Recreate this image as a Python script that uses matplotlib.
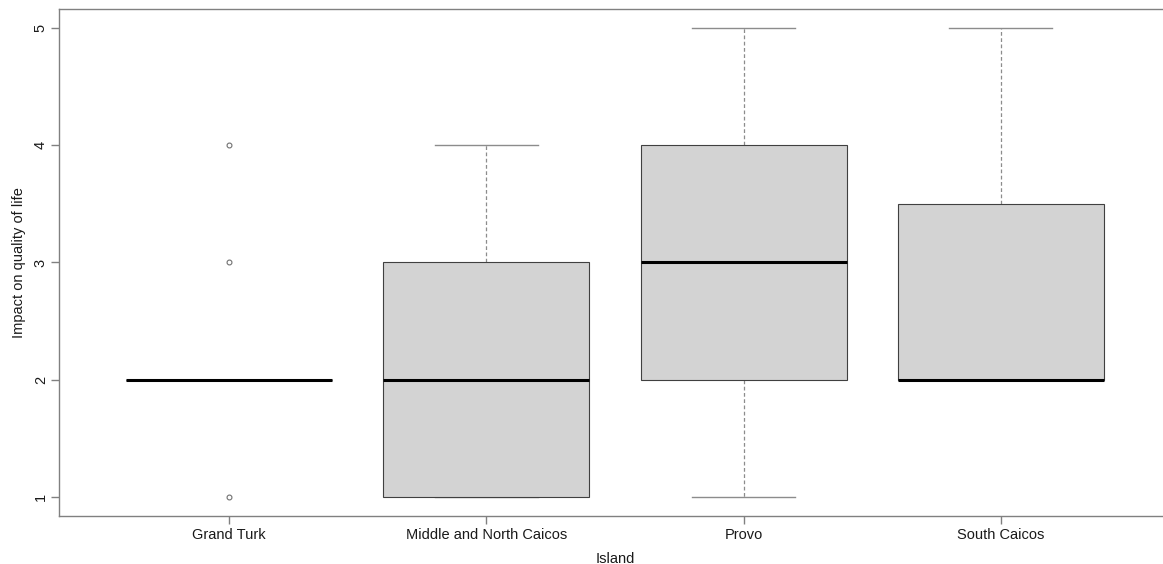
import matplotlib.pyplot as plt

plt.rcParams['font.family'] = ['Liberation Sans', 'DejaVu Sans']

# Five-number summaries per island (whisker low, Q1, median, Q3, whisker high)
islands = ['Grand Turk', 'Middle and North Caicos', 'Provo', 'South Caicos']
whisker_low = [2, 1, 1, 2]
q1 = [2, 1, 2, 2]
median = [2, 2, 3, 2]
q3 = [2, 3, 4, 3.5]
whisker_high = [2, 4, 5, 5]
outliers = [[1, 3, 4], [], [], []]

stats = []
for i, name in enumerate(islands):
    stats.append({
        'label': name,
        'whislo': whisker_low[i],
        'q1': q1[i],
        'med': median[i],
        'q3': q3[i],
        'whishi': whisker_high[i],
        'fliers': outliers[i],
    })

fig = plt.figure(figsize=(11.63, 5.64), dpi=100)
ax = fig.add_axes([0.0507, 0.0851, 0.956, 0.899])

grey = '#8c8c8c'
ax.bxp(stats, positions=range(1, 5), widths=0.8, patch_artist=True,
       boxprops=dict(facecolor='#d3d3d3', edgecolor='#404040', linewidth=0.8, zorder=3),
       medianprops=dict(color='black', linewidth=2.2, zorder=4),
       whiskerprops=dict(color=grey, linewidth=0.9, linestyle=(0, (3, 2)), zorder=2),
       capprops=dict(color=grey, linewidth=1.0, zorder=2),
       flierprops=dict(marker='o', markersize=3.5, markerfacecolor='none',
                       markeredgecolor='#707070', markeredgewidth=0.8))

ax.set_xlim(0.34, 4.66)
ax.set_ylim(0.84, 5.16)
ax.set_yticks([1, 2, 3, 4, 5])
ax.set_yticklabels(['1', '2', '3', '4', '5'], rotation=90, va='center')

for s in ax.spines.values():
    s.set_color('#808080')
    s.set_linewidth(1.0)
ax.tick_params(axis='both', colors='#808080', labelcolor='#1a1a1a',
               length=6, width=1.0, labelsize=10.5)
ax.tick_params(axis='x', pad=2.5)
ax.tick_params(axis='y', pad=2)

ax.set_xlabel('Island', fontsize=10.5, color='#1a1a1a', labelpad=7.5)
ax.set_ylabel('Impact on quality of life', fontsize=10.5, color='#1a1a1a', labelpad=5.5)

fig.savefig('out.png', dpi=100)
